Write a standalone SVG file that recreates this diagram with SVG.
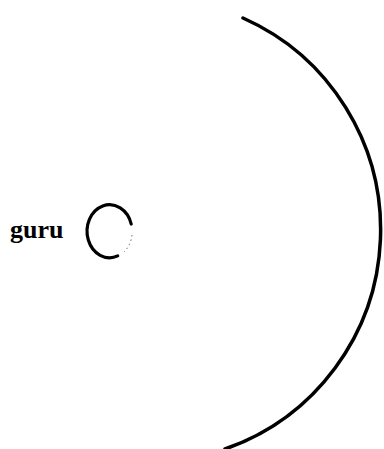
<svg xmlns="http://www.w3.org/2000/svg" width="384" height="449" viewBox="0 0 384 449">
<style>
.arc{fill:none;stroke:#000;stroke-width:3.5;stroke-linecap:round}
.thick{fill:none;stroke:#000;stroke-width:3.2;stroke-linecap:round}
.faint{fill:none;stroke:#555;stroke-width:0.9;stroke-dasharray:1.5 3}
.lbl{font-family:"Liberation Serif","Times New Roman",serif;font-weight:bold;font-size:26px;fill:#000}
</style>
<rect width="384" height="449" fill="#fff"/>
<g id="guru">
<text class="lbl" x="10" y="238">guru</text>
<path class="thick" d="M131.2 224 A22.5 26.5 0 1 0 117.7 255.9"/>
<path class="faint" d="M132 235 A22.5 26.5 0 0 1 124 252"/>
</g>
<g id="boundary">
<path class="arc" d="M243 18 A232 232 0 0 1 225 449"/>
</g>
</svg>
